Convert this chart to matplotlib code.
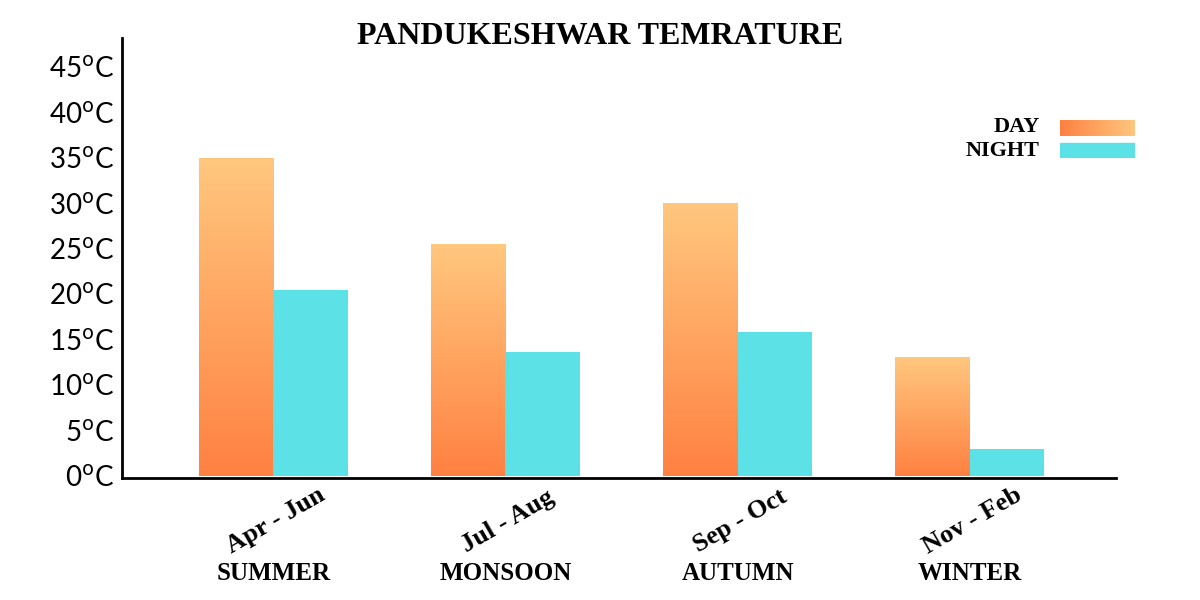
import matplotlib.pyplot as plt
import numpy as np
from matplotlib.patches import Rectangle
from matplotlib.colors import LinearSegmentedColormap
from matplotlib.transforms import blended_transform_factory

months = ["Apr - Jun", "Jul - Aug", "Sep - Oct", "Nov - Feb"]
seasons = ["SUMMER", "MONSOON", "AUTUMN", "WINTER"]
day = [35, 25.5, 30, 13]
night = [20.5, 13.7, 15.9, 3]

serif = "Liberation Serif"
orange = LinearSegmentedColormap.from_list("o", ["#FF8142", "#FFC77E"])
cyan = "#5CE1E6"
w = 0.32

fig = plt.figure(figsize=(12, 6), dpi=100)
ax = fig.add_axes([0.102, 0.203, 0.828, 0.734])

grad = np.linspace(0, 1, 256).reshape(-1, 1)
for i in range(len(months)):
    x0 = i - w
    ax.imshow(grad, cmap=orange, origin="lower", aspect="auto",
              extent=[x0, x0 + w, 0, day[i]], zorder=2)
    ax.bar(i, night[i], width=w, align="edge", color=cyan, zorder=2)
ax.set_xlim(-0.65, 3.63)
ax.set_ylim(-0.2, 48.3)

ax.set_yticks(range(0, 50, 5))
ax.set_yticklabels([f"{v}$^{{\\mathrm{{o}}}}$C" for v in range(0, 50, 5)],
                   fontsize=20, fontfamily="Lato")
ax.set_xticks([])
ax.tick_params(length=0, pad=6)
for s in ["top", "right"]:
    ax.spines[s].set_visible(False)
for s in ["left", "bottom"]:
    ax.spines[s].set_linewidth(2)

tr = blended_transform_factory(ax.transData, fig.transFigure)
for i, m in enumerate(months):
    ax.text(i + 0.01, 1 - 521 / 600, m, transform=tr, rotation=30, fontsize=19,
            fontfamily=serif, fontweight="bold", ha="center", va="center")
    ax.text(i, 1 - 574 / 600, seasons[i], transform=tr, fontfamily=serif,
            fontweight="bold", fontsize=18, ha="center", va="center")

fig.text(0.5, 1 - 37 / 600, "PANDUKESHWAR TEMRATURE", fontfamily=serif,
         fontweight="bold", fontsize=23, ha="center", va="center")

fig.text(1040 / 1200, 1 - 127 / 600, "DAY", fontfamily=serif, fontweight="bold",
         fontsize=16, ha="right", va="center")
fig.text(1040 / 1200, 1 - 151 / 600, "NIGHT", fontfamily=serif, fontweight="bold",
         fontsize=16, ha="right", va="center")
lax = fig.add_axes([1060 / 1200, 1 - 158 / 600, 75 / 1200, 40 / 600])
lax.axis("off")
lax.imshow(np.linspace(0, 1, 256).reshape(1, -1), cmap=orange, aspect="auto",
           extent=[0, 1, 22, 38])
lax.add_patch(Rectangle((0, 0), 1, 15, color=cyan))
lax.set_xlim(0, 1)
lax.set_ylim(0, 40)

fig.savefig("out.png", dpi=100)
